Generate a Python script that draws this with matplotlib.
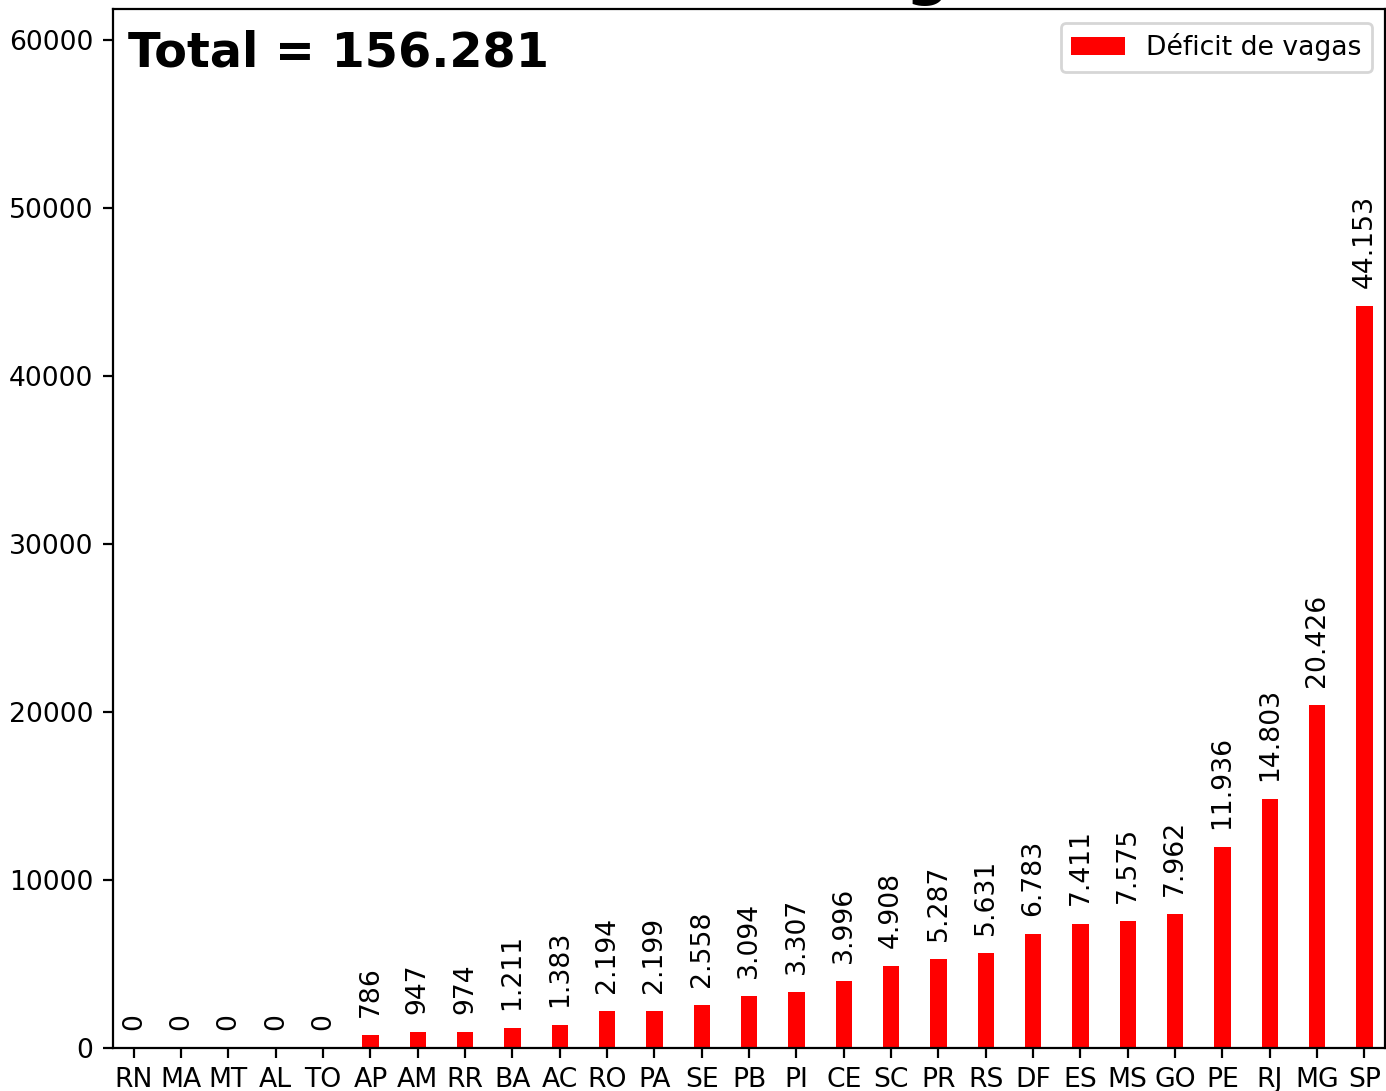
import matplotlib
matplotlib.use('Agg')
import matplotlib.pyplot as plt

# Vacancy deficit per state (sorted ascending)
states = ['RN', 'MA', 'MT', 'AL', 'TO', 'AP', 'AM', 'RR', 'BA', 'AC', 'RO', 'PA', 'SE', 'PB',
          'PI', 'CE', 'SC', 'PR', 'RS', 'DF', 'ES', 'MS', 'GO', 'PE', 'RJ', 'MG', 'SP']
deficit = [0, 0, 0, 0, 0, 786, 947, 974, 1211, 1383, 2194, 2199, 2558, 3094,
           3307, 3996, 4908, 5287, 5631, 6783, 7411, 7575, 7962, 11936, 14803, 20426, 44153]
total = 156281  # total as printed in the original chart


def fmt(v):
    return f'{v:,}'.replace(',', '.')


fig = plt.figure(figsize=(6.93, 5.455), dpi=200)
ax = fig.add_axes([0.0815, 0.0394, 0.918, 0.9519])

x = list(range(len(states)))
bars = ax.bar(x, deficit, width=0.35, color='red', label='Déficit de vagas')

for xi, v in zip(x, deficit):
    ax.annotate(fmt(v), (xi, v), xytext=(0, 6.5), textcoords='offset points',
                ha='center', va='bottom', rotation=90, fontsize=9.6)

ax.set_xticks(x)
ax.set_xticklabels(states, fontsize=9.6)
ax.tick_params(axis='y', labelsize=9.6)
ax.set_xlim(-0.44, len(states) - 1 + 0.44)
ax.set_ylim(0, max(deficit) * 1.4)

ax.text(0.012, 0.981, 'Total = ' + fmt(total), transform=ax.transAxes,
        fontsize=17.2, fontweight='bold', va='top', ha='left')
ax.legend(loc='upper right', fontsize=9.6)
ax.set_title('Déficit de vagas', fontsize=22, fontweight='bold')

fig.savefig('out.png', dpi=200)
